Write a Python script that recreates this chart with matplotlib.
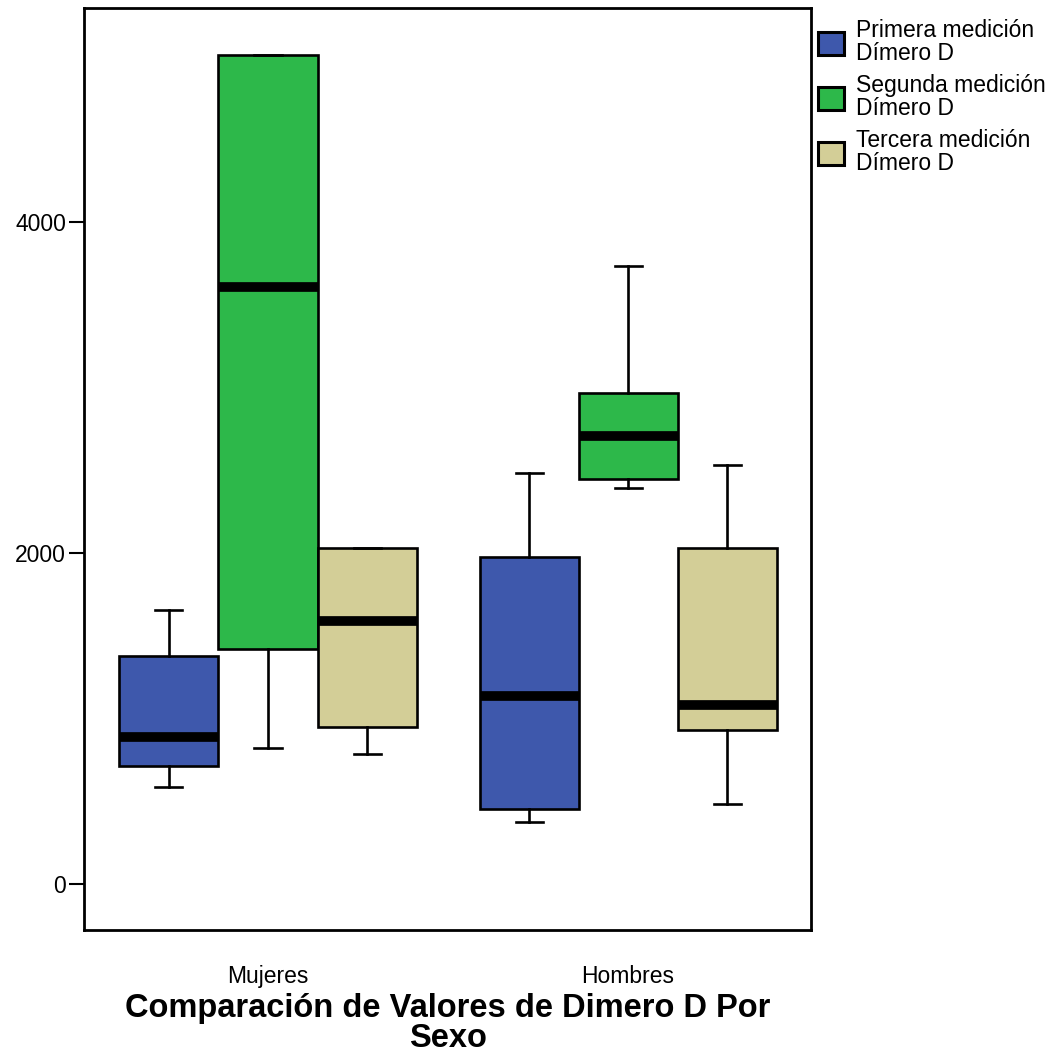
import matplotlib
matplotlib.use("Agg")
import matplotlib.pyplot as plt
from matplotlib.patches import Patch

plt.rcParams['font.family'] = ['Liberation Sans', 'DejaVu Sans']

groups = ["Mujeres", "Hombres"]
series = ["Primera medición\nDímero D", "Segunda medición\nDímero D", "Tercera medición\nDímero D"]
colors = ["#3E58AC", "#2DB84A", "#D3CE97"]

# [whislo, q1, med, q3, whishi] per group per series
primera = [[586, 713, 888, 1378, 1656], [375, 453, 1136, 1976, 2483]]
segunda = [[822, 1420, 3607, 5009, 5009], [2393, 2447, 2707, 2967, 3734]]
tercera = [[785, 949, 1589, 2030, 2030], [483, 930, 1082, 2030, 2532]]
all_series = [primera, segunda, tercera]

yticks = [0, 2000, 4000]

fig = plt.figure(figsize=(10.56, 10.52), dpi=100)
ax = fig.add_axes([84/1056, 1 - 930/1052, 727/1056, 922/1052])

width = 0.275
offsets = [-width, 0, width]
for si, (vals, col) in enumerate(zip(all_series, colors)):
    stats = []
    for gi, v in enumerate(vals):
        stats.append(dict(whislo=v[0], q1=v[1], med=v[2], q3=v[3], whishi=v[4], fliers=[]))
    pos = [gi + offsets[si] for gi in range(len(groups))]
    ax.bxp(stats, positions=pos, widths=width, patch_artist=True, showfliers=False,
           capwidths=0.075,
           boxprops=dict(facecolor=col, edgecolor='black', linewidth=1.9),
           medianprops=dict(color='black', linewidth=7, solid_capstyle='butt'),
           whiskerprops=dict(color='black', linewidth=1.9),
           capprops=dict(color='black', linewidth=1.9))

ax.set_xlim(-0.511, 1.508)
ax.set_ylim(-278, 5293)
ax.set_xticks(range(len(groups)))
ax.set_xticklabels(groups, fontsize=16.5)
ax.tick_params(axis='x', length=0, pad=25)
ax.set_yticks(yticks)
ax.set_yticklabels([str(t) for t in yticks], fontsize=16.5)
ax.tick_params(axis='y', length=11, width=1.5, pad=2)
for s in ax.spines.values():
    s.set_linewidth(2)

ax.set_xlabel("Comparación de Valores de Dimero D Por\nSexo", fontsize=23.5, fontweight='bold',
              labelpad=4, linespacing=0.95)

handles = [Patch(facecolor=c, edgecolor='black', linewidth=2.2) for c in colors]
fig.legend(handles, series, loc='upper left', bbox_to_anchor=(818/1056, 1 - 19/1052), frameon=False,
           fontsize=16.5, handlelength=1.15, handleheight=1.15, handletextpad=0.5,
           borderaxespad=0, labelspacing=0.4, borderpad=0)
for t in fig.legends[0].get_texts():
    t.set_linespacing(1.0)

fig.savefig("out.png", dpi=100)
